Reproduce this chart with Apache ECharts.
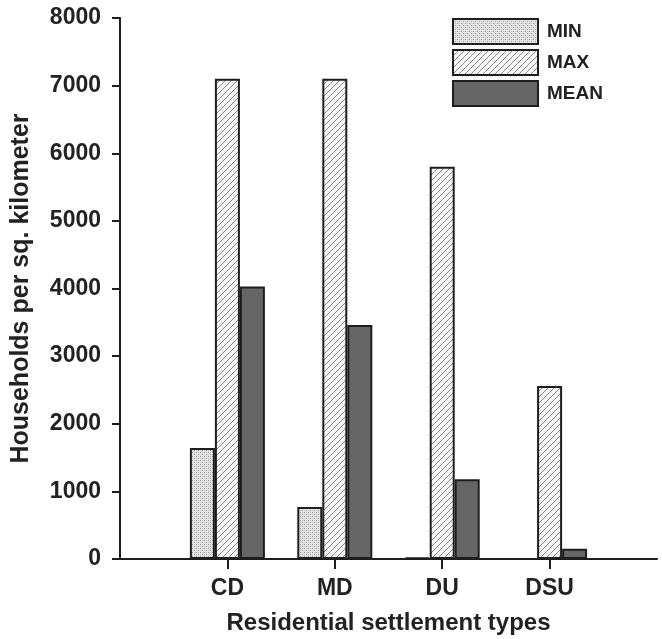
<!DOCTYPE html>
<html><head><meta charset="utf-8">
<script src="https://cdn.jsdelivr.net/npm/echarts@6/dist/echarts.min.js"></script>
<style>html,body{margin:0;padding:0;background:#fff}#c{width:662px;height:639px}</style>
</head><body><div id="c"></div>
<script>
const categories = ['', 'CD', 'MD', 'DU', 'DSU', ''];
const minValues = [null, 1640, 770, 20, 0, null];
const maxValues = [null, 7100, 7100, 5800, 2560, null];
const meanValues = [null, 4030, 3460, 1180, 150, null];
const yTicks = [0, 1000, 2000, 3000, 4000, 5000, 6000, 7000, 8000];

function dotPattern() {
  const c = document.createElement('canvas'); c.width = 4; c.height = 4;
  const g = c.getContext('2d');
  g.fillStyle = '#e4e4e4'; g.fillRect(0, 0, 4, 4);
  g.fillStyle = '#9a9a9a'; g.fillRect(0, 0, 1, 1); g.fillRect(2, 2, 1, 1);
  g.fillStyle = '#c4c4c4'; g.fillRect(2, 0, 1, 1); g.fillRect(0, 2, 1, 1);
  return c;
}
function hatchPattern() {
  const s = 6;
  const c = document.createElement('canvas'); c.width = s; c.height = s;
  const g = c.getContext('2d');
  g.fillStyle = '#f6f6f6'; g.fillRect(0, 0, s, s);
  g.strokeStyle = '#8a8a8a'; g.lineWidth = 1;
  g.beginPath();
  g.moveTo(0, s); g.lineTo(s, 0);
  g.moveTo(-s, s); g.lineTo(0, 0);
  g.moveTo(s, 2 * s); g.lineTo(2 * s, s);
  g.stroke();
  return c;
}

const font = 'Liberation Sans, Arial, sans-serif';
const chart = echarts.init(document.getElementById('c'));
const border = { borderColor: '#1e1e1e', borderWidth: 2 };
chart.setOption({
  animation: false,
  backgroundColor: '#fff',
  grid: { left: 120, top: 18, right: 5, bottom: 80, containLabel: false, outerBoundsMode: 'none' },
  legend: {
    orient: 'vertical', left: 452, top: 18, padding: 0,
    itemWidth: 85, itemHeight: 25, itemGap: 4,
    textStyle: { fontFamily: font, fontWeight: 'bold', fontSize: 19, color: '#222', padding: [0, 0, 0, 4] },
    data: ['MIN', 'MAX', 'MEAN'], icon: 'rect'
  },
  xAxis: {
    type: 'category', data: categories, boundaryGap: false,
    name: 'Residential settlement types', nameLocation: 'middle', nameGap: 52,
    nameTextStyle: { fontFamily: font, fontWeight: 'bold', fontSize: 24, color: '#222' },
    axisLine: { lineStyle: { color: '#1e1e1e', width: 2 } },
    axisTick: { show: true, length: 10, lineStyle: { color: '#1e1e1e', width: 2 },
      interval: (i) => i >= 1 && i <= 4 },
    axisLabel: { fontFamily: font, fontWeight: 'bold', fontSize: 23, color: '#222', margin: 18,
      interval: (i) => i >= 1 && i <= 4 },
    splitLine: { show: false }
  },
  yAxis: {
    type: 'value', min: 0, max: 8000, interval: 1000,
    name: 'Households per sq. kilometer', nameLocation: 'middle', nameGap: 86,
    nameTextStyle: { fontFamily: font, fontWeight: 'bold', fontSize: 25, color: '#222' },
    axisLine: { show: true, lineStyle: { color: '#1e1e1e', width: 2 } },
    axisTick: { show: true, length: 8, lineStyle: { color: '#1e1e1e', width: 2 } },
    axisLabel: { fontFamily: font, fontWeight: 'bold', fontSize: 23, color: '#222', margin: 19,
      formatter: (v) => yTicks.includes(v) ? String(v) : '' },
    splitLine: { show: false }
  },
  series: [
    { name: 'MIN', type: 'bar', data: minValues, barWidth: 25, barGap: '0%',
      itemStyle: Object.assign({ color: { image: dotPattern(), repeat: 'repeat' } }, border) },
    { name: 'MAX', type: 'bar', data: maxValues, barWidth: 25, barGap: '0%',
      itemStyle: Object.assign({ color: { image: hatchPattern(), repeat: 'repeat' } }, border) },
    { name: 'MEAN', type: 'bar', data: meanValues, barWidth: 25, barGap: '0%',
      itemStyle: Object.assign({ color: '#666666' }, border) }
  ]
});
</script></body></html>
